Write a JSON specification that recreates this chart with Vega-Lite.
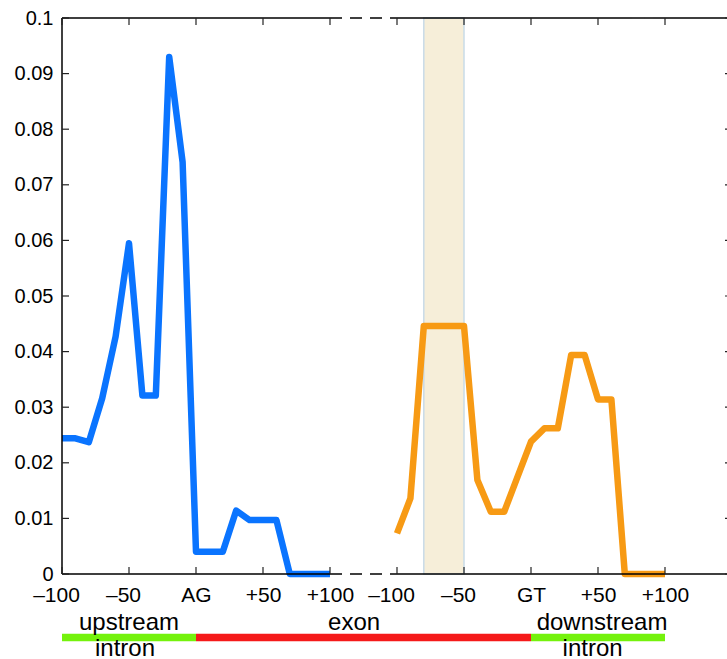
{
  "$schema": "https://vega.github.io/schema/vega-lite/v6.json",
  "autosize": {"type": "none"},
  "padding": {"left": 62, "top": 18, "right": 0, "bottom": 85},
  "width": 670,
  "height": 556,
  "background": "white",
  "config": {
    "view": {"stroke": null},
    "axis": {
      "labelFont": "Liberation Sans",
      "labelFontSize": 20,
      "labelColor": "black",
      "ticks": false,
      "domain": false,
      "grid": false,
      "title": null,
      "labelFlush": false,
      "labelOverlap": false
    },
    "text": {"font": "Liberation Sans"}
  },
  "datasets": {
    "upstream": [
      {"pos": -100, "freq": 0.0244}, {"pos": -90, "freq": 0.0244}, {"pos": -80, "freq": 0.0237},
      {"pos": -70, "freq": 0.0316}, {"pos": -60, "freq": 0.0427}, {"pos": -50, "freq": 0.0595},
      {"pos": -40, "freq": 0.0321}, {"pos": -30, "freq": 0.0321}, {"pos": -20, "freq": 0.0930},
      {"pos": -10, "freq": 0.0741}, {"pos": 0, "freq": 0.0040}, {"pos": 10, "freq": 0.0040},
      {"pos": 20, "freq": 0.0040}, {"pos": 30, "freq": 0.0114}, {"pos": 40, "freq": 0.0097},
      {"pos": 50, "freq": 0.0097}, {"pos": 60, "freq": 0.0097}, {"pos": 70, "freq": 0.0},
      {"pos": 80, "freq": 0.0}, {"pos": 90, "freq": 0.0}, {"pos": 100, "freq": 0.0}
    ],
    "downstream": [
      {"pos": 150, "freq": 0.0073}, {"pos": 160, "freq": 0.0136}, {"pos": 170, "freq": 0.0446},
      {"pos": 180, "freq": 0.0446}, {"pos": 190, "freq": 0.0446}, {"pos": 200, "freq": 0.0446},
      {"pos": 210, "freq": 0.0169}, {"pos": 220, "freq": 0.0112}, {"pos": 230, "freq": 0.0112},
      {"pos": 240, "freq": 0.0175}, {"pos": 250, "freq": 0.0238}, {"pos": 260, "freq": 0.0262},
      {"pos": 270, "freq": 0.0262}, {"pos": 280, "freq": 0.0394}, {"pos": 290, "freq": 0.0394},
      {"pos": 300, "freq": 0.0314}, {"pos": 310, "freq": 0.0314}, {"pos": 320, "freq": 0.0},
      {"pos": 330, "freq": 0.0}, {"pos": 340, "freq": 0.0}, {"pos": 350, "freq": 0.0}
    ],
    "frame": [
      {"a": -100, "b": 100, "y": 0, "style": "solid"},
      {"a": 100, "b": 150, "y": 0, "style": "dashed"},
      {"a": 150, "b": 400, "y": 0, "style": "solid"},
      {"a": -100, "b": 100, "y": 0.1, "style": "solid"},
      {"a": 100, "b": 150, "y": 0.1, "style": "dashed"},
      {"a": 150, "b": 400, "y": 0.1, "style": "solid"}
    ],
    "sides": [
      {"x": -100, "lo": 0, "hi": 0.1},
      {"x": 400, "lo": 0, "hi": 0.1}
    ],
    "xticks": [
      {"pos": -100}, {"pos": -50}, {"pos": 0}, {"pos": 50}, {"pos": 100},
      {"pos": 150}, {"pos": 200}, {"pos": 250}, {"pos": 300}, {"pos": 350}
    ],
    "yticks": [
      {"freq": 0}, {"freq": 0.01}, {"freq": 0.02}, {"freq": 0.03}, {"freq": 0.04}, {"freq": 0.05},
      {"freq": 0.06}, {"freq": 0.07}, {"freq": 0.08}, {"freq": 0.09}, {"freq": 0.1}
    ],
    "regions": [
      {"a": -100, "b": 0, "y": -0.0114, "region": "intron"},
      {"a": 0, "b": 250, "y": -0.0114, "region": "exon"},
      {"a": 250, "b": 350, "y": -0.0114, "region": "intron"}
    ],
    "labels": [
      {"pos": -50, "y": -0.0101, "text": "upstream"},
      {"pos": -53, "y": -0.0148, "text": "intron"},
      {"pos": 118, "y": -0.0101, "text": "exon"},
      {"pos": 303, "y": -0.0101, "text": "downstream"},
      {"pos": 296, "y": -0.0148, "text": "intron"}
    ],
    "band": [{"a": 170, "b": 200}]
  },
  "layer": [
    {
      "data": {"name": "band"},
      "mark": {"type": "rect", "fill": "#f6eed9", "stroke": "#c9dbe7", "strokeWidth": 1.5},
      "encoding": {
        "x": {
          "field": "a", "type": "quantitative",
          "scale": {"domain": [-100, 400], "nice": false, "zero": false},
          "axis": {
            "orient": "bottom",
            "values": [-100, -50, 0, 50, 100, 150, 200, 250, 300, 350],
            "labelExpr": "datum.value == -100 || datum.value == 150 ? '–100' : datum.value == -50 || datum.value == 200 ? '–50' : datum.value == 0 ? 'AG' : datum.value == 250 ? 'GT' : datum.value == 50 || datum.value == 300 ? '+50' : '+100'",
            "labelPadding": 10,
            "labelOffset": {"condition": {"test": "datum.value == -100 || datum.value == -50 || datum.value == 150 || datum.value == 200", "value": -6}, "value": 0},
            "labelFontSize": 21
          }
        },
        "x2": {"field": "b"},
        "y": {
          "datum": 0, "type": "quantitative",
          "scale": {"domain": [0, 0.1], "nice": false},
          "axis": {
            "orient": "left",
            "values": [0, 0.01, 0.02, 0.03, 0.04, 0.05, 0.06, 0.07, 0.08, 0.09, 0.1],
            "labelExpr": "format(datum.value, '.2~f')",
            "labelPadding": 9
          }
        },
        "y2": {"datum": 0.1}
      }
    },
    {
      "data": {"name": "upstream"},
      "mark": {"type": "line", "color": "#0a74ff", "strokeWidth": 6.5, "strokeJoin": "round", "strokeCap": "butt"},
      "encoding": {
        "x": {"field": "pos", "type": "quantitative"},
        "y": {"field": "freq", "type": "quantitative"}
      }
    },
    {
      "data": {"name": "downstream"},
      "mark": {"type": "line", "color": "#f79a14", "strokeWidth": 6.5, "strokeJoin": "round", "strokeCap": "butt"},
      "encoding": {
        "x": {"field": "pos", "type": "quantitative"},
        "y": {"field": "freq", "type": "quantitative"}
      }
    },
    {
      "data": {"name": "frame"},
      "mark": {"type": "rule", "color": "black", "strokeWidth": 1.5},
      "encoding": {
        "x": {"field": "a", "type": "quantitative"},
        "x2": {"field": "b"},
        "y": {"field": "y", "type": "quantitative"},
        "strokeDash": {"field": "style", "type": "nominal", "scale": {"domain": ["solid", "dashed"], "range": [[1, 0], [12, 8]]}, "legend": null}
      }
    },
    {
      "data": {"name": "sides"},
      "mark": {"type": "rule", "color": "black", "strokeWidth": 1.5},
      "encoding": {
        "x": {"field": "x", "type": "quantitative"},
        "y": {"field": "lo", "type": "quantitative"},
        "y2": {"field": "hi"}
      }
    },
    {
      "data": {"name": "xticks"},
      "mark": {"type": "tick", "orient": "vertical", "color": "#222222", "size": 7, "thickness": 1.2, "yOffset": -3.5, "opacity": 1},
      "encoding": {
        "x": {"field": "pos", "type": "quantitative"},
        "y": {"datum": 0, "type": "quantitative"}
      }
    },
    {
      "data": {"name": "xticks"},
      "mark": {"type": "tick", "orient": "vertical", "color": "#222222", "size": 7, "thickness": 1.2, "yOffset": 3.5, "opacity": 1},
      "encoding": {
        "x": {"field": "pos", "type": "quantitative"},
        "y": {"datum": 0.1, "type": "quantitative"}
      }
    },
    {
      "data": {"name": "yticks"},
      "mark": {"type": "tick", "orient": "horizontal", "color": "#222222", "size": 7, "thickness": 1.2, "xOffset": 3.5, "opacity": 1},
      "encoding": {
        "y": {"field": "freq", "type": "quantitative"},
        "x": {"datum": -100, "type": "quantitative"}
      }
    },
    {
      "data": {"name": "yticks"},
      "mark": {"type": "tick", "orient": "horizontal", "color": "#222222", "size": 7, "thickness": 1.2, "xOffset": -3.5, "opacity": 1},
      "encoding": {
        "y": {"field": "freq", "type": "quantitative"},
        "x": {"datum": 400, "type": "quantitative"}
      }
    },
    {
      "data": {"name": "regions"},
      "mark": {"type": "rule", "strokeWidth": 7.5},
      "encoding": {
        "x": {"field": "a", "type": "quantitative"},
        "x2": {"field": "b"},
        "y": {"field": "y", "type": "quantitative"},
        "color": {"field": "region", "type": "nominal", "scale": {"domain": ["intron", "exon"], "range": ["#74f20c", "#f51a1a"]}, "legend": null}
      }
    },
    {
      "data": {"name": "labels"},
      "mark": {"type": "text", "fontSize": 24, "baseline": "alphabetic", "align": "center", "color": "black"},
      "encoding": {
        "x": {"field": "pos", "type": "quantitative"},
        "y": {"field": "y", "type": "quantitative"},
        "text": {"field": "text"}
      }
    }
  ]
}
